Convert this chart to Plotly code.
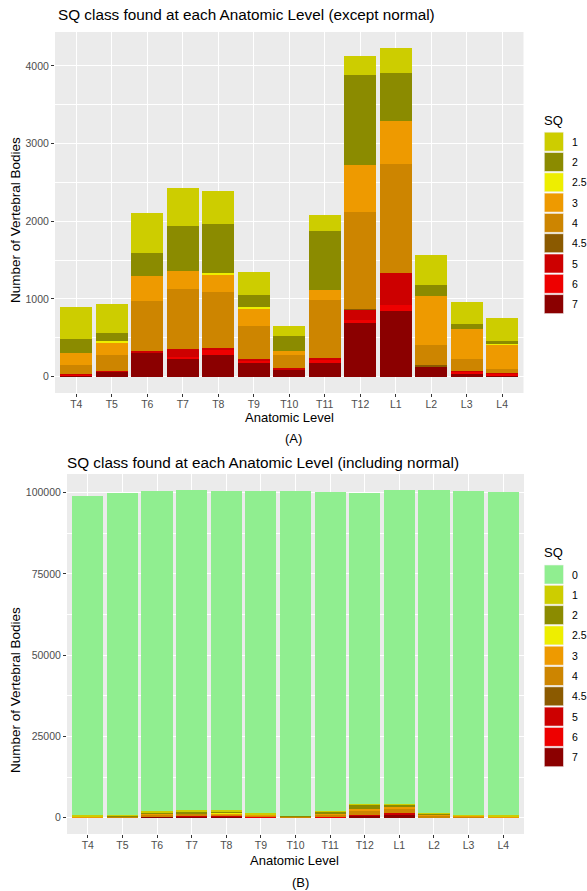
import plotly.graph_objects as go

W, H = 587, 891

levels = ["T4", "T5", "T6", "T7", "T8", "T9", "T10", "T11", "T12", "L1", "L2", "L3", "L4"]

# SQ class counts per anatomic level
sq0 = [97980, 99050, 98290, 98280, 98210, 99260, 99950, 98210, 95770, 96470, 99130, 99530, 99540]
sq1 = [409, 376, 518, 483, 422, 289, 129, 211, 242, 319, 388, 285, 306]
sq2 = [181, 99, 301, 582, 634, 159, 190, 755, 1168, 617, 138, 64, 22]
sq2_5 = [0, 21, 0, 0, 22, 17, 0, 0, 0, 0, 0, 0, 21]
sq3 = [152, 160, 315, 224, 224, 233, 56, 129, 604, 556, 630, 393, 311]
sq4 = [116, 207, 647, 780, 724, 423, 172, 746, 1246, 1397, 267, 146, 56]
sq4_5 = [0, 0, 0, 0, 0, 0, 0, 0, 5, 0, 10, 0, 0]
sq5 = [10, 10, 30, 95, 22, 17, 10, 22, 140, 414, 10, 13, 8]
sq6 = [15, 0, 0, 30, 65, 26, 0, 43, 30, 74, 0, 35, 15]
sq7 = [10, 65, 300, 229, 280, 181, 97, 181, 694, 849, 125, 30, 20]

classes_a = ["1", "2", "2.5", "3", "4", "4.5", "5", "6", "7"]
classes_b = ["0"] + classes_a
values = {"0": sq0, "1": sq1, "2": sq2, "2.5": sq2_5, "3": sq3, "4": sq4,
          "4.5": sq4_5, "5": sq5, "6": sq6, "7": sq7}
colors = {"0": "#90EE90", "1": "#CDCD00", "2": "#8B8B00", "2.5": "#EEEE00",
          "3": "#EE9A00", "4": "#CD8500", "4.5": "#8B5A00", "5": "#CD0000",
          "6": "#EE0000", "7": "#8B0000"}

yticks_a = [0, 1000, 2000, 3000, 4000]
yminor_a = [500, 1500, 2500, 3500]
yticks_b = [0, 25000, 50000, 75000, 100000]
yminor_b = [12500, 37500, 62500, 87500]

FONT = "Liberation Sans, Arial, sans-serif"


def X(px):
    return px / W


def Y(py):
    return 1 - py / H


fig = go.Figure()

# stacking: last factor level at the bottom
for c in reversed(classes_a):
    fig.add_trace(go.Bar(x=levels, y=values[c], name=c, marker=dict(color=colors[c], line=dict(width=0)),
                         xaxis="x", yaxis="y", showlegend=False))
for c in reversed(classes_b):
    fig.add_trace(go.Bar(x=levels, y=values[c], name=c, marker=dict(color=colors[c], line=dict(width=0)),
                         xaxis="x2", yaxis="y2", showlegend=False))

axis_common = dict(
    showgrid=True, gridcolor="white", gridwidth=1.1, zeroline=False, showline=False,
    ticks="outside", ticklen=3, tickwidth=1, tickcolor="#333333",
)
yfont = dict(tickfont=dict(family=FONT, size=10.5, color="#4D4D4D"))
xfont = dict(tickfont=dict(family=FONT, size=10.5, color="#4D4D4D"), ticklabelstandoff=-2)

fig.update_layout(
    width=W, height=H,
    margin=dict(l=0, r=0, t=0, b=0),
    paper_bgcolor="white", plot_bgcolor="#EBEBEB",
    barmode="stack", bargap=0.1,
    font=dict(family=FONT, color="black"),
    xaxis=dict(domain=[X(55), X(523.5)], anchor="y", type="category", categoryorder="array",
               categoryarray=levels, range=[-0.6, 12.6], **axis_common, **xfont),
    yaxis=dict(domain=[Y(393), Y(32)], anchor="x", range=[-211, 4437], tickvals=yticks_a,
               tickformat="d",
               minor=dict(tickvals=yminor_a, showgrid=True, gridcolor="white", gridwidth=0.5, ticks=""),
               **axis_common, **yfont),
    xaxis2=dict(domain=[X(67), X(524)], anchor="y2", type="category", categoryorder="array",
                categoryarray=levels, range=[-0.6, 12.6], **axis_common, **xfont),
    yaxis2=dict(domain=[Y(834), Y(474)], anchor="x2", range=[-5035, 105735], tickvals=yticks_b,
                tickformat="d",
                minor=dict(tickvals=yminor_b, showgrid=True, gridcolor="white", gridwidth=0.5, ticks=""),
                **axis_common, **yfont),
)

ann = []


def text(x, y, s, size, xanchor="left", angle=0, color="black"):
    ann.append(dict(x=X(x), y=Y(y), xref="paper", yref="paper", text=s, showarrow=False,
                    xanchor=xanchor, yanchor="middle", textangle=angle, borderpad=0,
                    font=dict(family=FONT, size=size, color=color)))


text(57, 14, "SQ class found at each Anatomic Level (except normal)", 15.3)
text(66, 462, "SQ class found at each Anatomic Level (including normal)", 15.3)
text(289, 417, "Anatomic Level", 13, xanchor="center")
text(295, 860, "Anatomic Level", 13, xanchor="center")
text(15, 220, "Number of Vertebral Bodies", 13.5, xanchor="center", angle=-90)
text(15, 690, "Number of Vertebral Bodies", 13.5, xanchor="center", angle=-90)
text(293, 438, "(A)", 13, xanchor="center")
text(300, 882, "(B)", 13, xanchor="center")

shapes = []


def legend(classes, title_y, first_center):
    text(543, title_y, "SQ", 13)
    for i, c in enumerate(classes):
        cy = first_center + i * 20.3
        shapes.append(dict(type="rect", xref="paper", yref="paper",
                           x0=X(544.3), x1=X(563.5), y0=Y(cy - 9.5), y1=Y(cy + 9.5),
                           fillcolor=colors[c], line=dict(width=0.6, color="#F2F2F2")))
        text(571, cy, c, 10.5)


legend(classes_a, 120, 141.7)
legend(classes_b, 552, 574.5)

fig.update_layout(annotations=ann, shapes=shapes)

# remove the default page margin so the figure fills the window exactly
fig.write_html("out.html",
               config={"displayModeBar": False},
               post_script="document.body.style.margin='0px';document.body.style.overflow='hidden';")
